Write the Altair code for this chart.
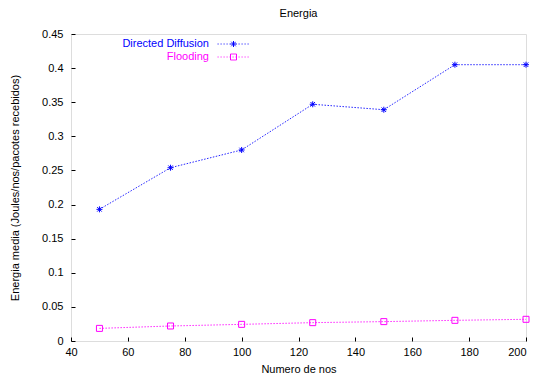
import altair as alt
import pandas as pd

nodes = [50, 75, 100, 125, 150, 175, 200]
directed = [0.193, 0.254, 0.280, 0.347, 0.339, 0.405, 0.405]
flooding = [0.0185, 0.022, 0.0244, 0.0269, 0.0284, 0.0303, 0.0318]
series_names = ["Directed Diffusion", "Flooding"]
series_colors = ["#0000ff", "#ff00ff"]
x_ticks = [40, 60, 80, 100, 120, 140, 160, 180, 200]
y_ticks = [0, 0.05, 0.1, 0.15, 0.2, 0.25, 0.3, 0.35, 0.4, 0.45]

df = pd.DataFrame({
    "nos": nodes + nodes,
    "energia": directed + flooding,
    "serie": [series_names[0]] * len(nodes) + [series_names[1]] * len(nodes),
})

FONT = "Liberation Sans"
star = "M-1,0L1,0M0,-1L0,1M-0.75,-0.75L0.75,0.75M-0.75,0.75L0.75,-0.75"
square = "M-1,-1L1,-1L1,1L-1,1Z"
marker_shapes = [star, square]


def dotted_line(half=5.3, step=1.0, dot=0.33):
    segs = []
    x = -half
    while x < half:
        segs.append(f"M{x:.2f},0L{min(x + dot, half):.2f},0")
        x += step
    return "".join(segs)


line_path = dotted_line()
star_leg = line_path + star
square_leg = line_path + square

color_scale = alt.Scale(domain=series_names, range=series_colors)

xs = alt.Scale(domain=[40, 200], nice=False, zero=False)
ys = alt.Scale(domain=[0, 0.45], nice=False)

common_axis = dict(
    offset=-4, tickSize=4, domain=False, grid=False, tickColor="black",
    labelColor="black", titleColor="black", labelFont=FONT, titleFont=FONT,
    labelFontSize=11, titleFontSize=11, titleFontWeight="normal",
    labelFlush=False, labelOverlap=False,
)

legend = alt.Legend(
    title=None, orient="none", legendX=157, legendY=4.5, labelFont=FONT,
    labelFontSize=11, rowPadding=1, symbolStrokeWidth=1, symbolSize=36,
    symbolFillColor="transparent", symbolDash=[1, 0], symbolOpacity=1,
    symbolType={"expr": f"datum.value === 'Flooding' ? '{square_leg}' : '{star_leg}'"},
    labelColor={"expr": "datum.value === 'Flooding' ? '#ff00ff' : '#0000ff'"},
    labelAlign="right", labelOffset={"expr": "-30"},
)

lines = alt.Chart(df).mark_line(strokeDash=[1.5, 1.5], strokeWidth=1, opacity=0.85).encode(
    x=alt.X("nos:Q", scale=xs, axis=alt.Axis(values=x_ticks, title="Numero de nos",
                                              orient="bottom", labelPadding=5,
                                              titlePadding=6,
                                              labelAlign={"expr": "datum.value === 200 ? 'right' : 'center'"},
                                              **common_axis)),
    y=alt.Y("energia:Q", scale=ys, axis=alt.Axis(values=y_ticks, format=".2~f",
                                                  title="Energia media (Joules/nos/pacotes recebidos)",
                                                  orient="left", labelPadding=8,
                                                  titlePadding=21, **common_axis)),
    color=alt.Color("serie:N", scale=color_scale, legend=legend),
    detail="serie:N",
)

point_layers = []
for i, name in enumerate(series_names):
    pl = alt.Chart(df).transform_filter(alt.datum.serie == name).mark_point(
        filled=False, size=36, strokeWidth=1, opacity=1,
        shape=marker_shapes[i], color=series_colors[i],
    ).encode(
        x=alt.X("nos:Q", scale=xs, axis=alt.Axis(values=x_ticks, orient="top", labels=False,
                                                  title=None, **common_axis) if i == 0 else None),
        y=alt.Y("energia:Q", scale=ys, axis=alt.Axis(values=y_ticks, orient="right", labels=False,
                                                      title=None, **common_axis) if i == 0 else None),
    )
    point_layers.append(pl)

points = alt.layer(*point_layers)

chart = alt.layer(lines, points).resolve_scale(
    x="independent", y="independent"
).properties(
    width=455, height=307,
    autosize=alt.AutoSizeParams(type="none"),
    padding={"left": 63, "top": 26, "right": 4, "bottom": 37},
    title=alt.Title("Energia", font=FONT, fontSize=11, fontWeight="normal", color="black",
                    offset=9),
).configure_view(stroke="black", strokeWidth=1).configure(background="white")

chart.save("out.html", embed_options={"renderer": "svg", "actions": False})
